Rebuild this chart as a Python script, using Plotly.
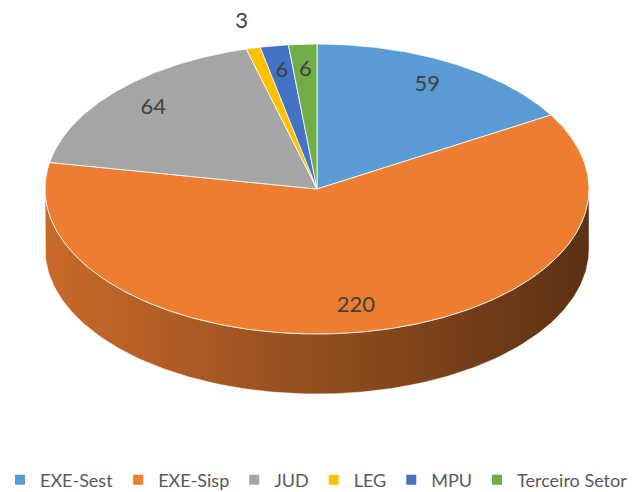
import numpy as np
import plotly.graph_objects as go

# Chart data
categories = ["EXE-Sest", "EXE-Sisp", "JUD", "LEG", "MPU", "Terceiro Setor"]
values = [59, 220, 64, 3, 6, 6]
colors = ["#5B9BD5", "#ED7D31", "#A5A5A5", "#FFC000", "#4472C4", "#70AD47"]

# Geometry of the tilted disc (pixel space, y grows downward)
W, H = 633, 492
CX, CY = 317, 189
RX, RY = 272, 145
DEPTH = 60


def pt(theta_deg, r=1.0, dy=0.0):
    t = np.radians(theta_deg)
    return CX + r * RX * np.sin(t), CY - r * RY * np.cos(t) + dy


def shade(hex_color, f):
    h = hex_color.lstrip("#")
    rgb = [int(h[i:i + 2], 16) for i in (0, 2, 4)]
    return "rgb({},{},{})".format(*[int(round(c * f)) for c in rgb])


total = float(sum(values))
spans = [v / total * 360.0 for v in values]
starts = np.concatenate([[0.0], np.cumsum(spans)[:-1]])

fig = go.Figure()

# Front wall of the disc (only the part facing the viewer, 90..270 degrees)
for name, s, sp, col in zip(categories, starts, spans, colors):
    lo, hi = max(s, 90.0), min(s + sp, 270.0)
    if lo >= hi:
        continue
    a = np.linspace(lo, hi, 200)
    xt, yt = pt(a)
    xb, yb = pt(a[::-1], dy=DEPTH)
    xs = np.concatenate([xt, xb, xt[:1]])
    ys = np.concatenate([yt, yb, yt[:1]])
    fig.add_trace(go.Scatter(
        x=xs, y=ys, mode="lines", fill="toself",
        line=dict(color="rgba(255,255,255,0.6)", width=0.8),
        fillgradient=dict(type="horizontal",
                          colorscale=[[0, shade(col, 0.85)], [1, shade(col, 0.39)]]),
        hoverinfo="skip", showlegend=False,
    ))

# Top face slices
for name, s, sp, col in zip(categories, starts, spans, colors):
    a = np.linspace(s, s + sp, max(int(sp * 2), 4))
    ex, ey = pt(a)
    xs = np.concatenate([[CX], ex, [CX]])
    ys = np.concatenate([[CY], ey, [CY]])
    fig.add_trace(go.Scatter(
        x=xs, y=ys, mode="lines", fill="toself", fillcolor=col,
        line=dict(color="white", width=0.8),
        name=name, hoverinfo="name", showlegend=False,
    ))

# Value labels: inside for normal slices, outside for very thin ones
lx, ly = [], []
for v, s, sp in zip(values, starts, spans):
    r = 1.18 if v / total < 0.01 else 0.82
    x, y = pt(s + sp / 2.0, r=r)
    lx.append(x)
    ly.append(y)
fig.add_trace(go.Scatter(
    x=lx, y=ly, mode="text", text=[str(v) for v in values],
    textposition="middle center",
    textfont=dict(family="Lato", size=22, color="#404040"),
    hoverinfo="skip", showlegend=False,
))

# Legend entries
for name, col in zip(categories, colors):
    fig.add_trace(go.Scatter(
        x=[None], y=[None], mode="markers", name=name,
        marker=dict(symbol="square", size=10, color=col),
    ))

fig.update_layout(
    width=W, height=H,
    margin=dict(l=0, r=0, t=0, b=0, autoexpand=False),
    paper_bgcolor="white", plot_bgcolor="white",
    xaxis=dict(range=[0, W], visible=False, fixedrange=True),
    yaxis=dict(range=[H, 0], visible=False, fixedrange=True),
    legend=dict(orientation="h", x=0.5, xanchor="center",
                y=1 - 480 / H, yanchor="middle",
                font=dict(family="Lato", size=18, color="#595959"),
                itemwidth=30, tracegroupgap=0),
)

fig.write_html("out.html")
